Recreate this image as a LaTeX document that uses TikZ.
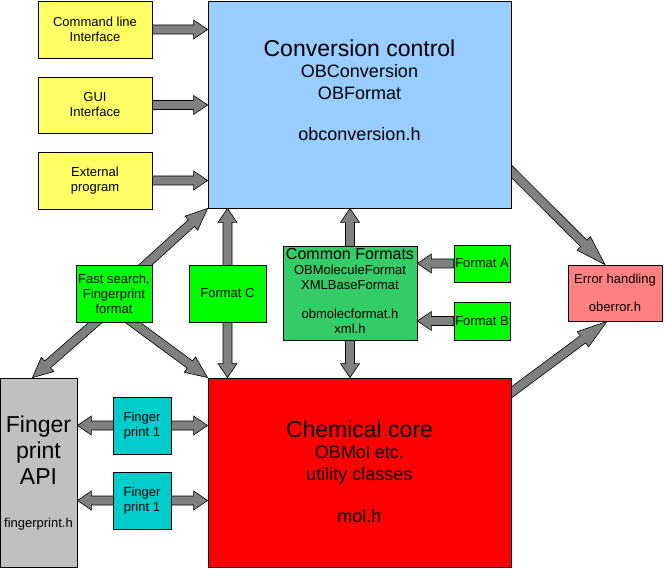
\documentclass[tikz,border=0pt]{standalone}
\usepackage{fontspec}
\setmainfont{Liberation Sans}
\usetikzlibrary{calc,backgrounds}

\definecolor{inputyellow}{HTML}{FFFF66}
\definecolor{convblue}{HTML}{99CCFF}
\definecolor{formatgreen}{HTML}{00FF00}
\definecolor{commongreen}{HTML}{33CC66}
\definecolor{corered}{HTML}{FF0000}
\definecolor{errorpink}{HTML}{FF8080}
\definecolor{apigrey}{HTML}{C0C0C0}
\definecolor{printcyan}{HTML}{00CCCC}
\definecolor{arrowgrey}{HTML}{808080}

\begin{document}
\begin{tikzpicture}[
    x=1pt,y=-1pt,
    box/.style={draw,line width=0.8pt,inner sep=0pt,align=center,
      font=\fontsize{13}{15}\selectfont},
    bigtext/.style={anchor=north,inner sep=0pt,align=center,
      font=\fontsize{18}{21.5}\selectfont},
    blockarrow/.style={draw,line width=0.6pt,fill=arrowgrey,
      to path={let \p1=(\tikztostart),\p2=(\tikztotarget),
        \n1={atan2(\y2-\y1,\x2-\x1)},\p3=($(\p2)!#1pt!(\p1)$) in
        ($(\p1)+(\n1+90:4.5pt)$) -- ($(\p3)+(\n1+90:4.5pt)$)
        -- ($(\p3)+(\n1+90:9.5pt)$) -- (\p2) -- ($(\p3)+(\n1-90:9.5pt)$)
        -- ($(\p3)+(\n1-90:4.5pt)$) -- ($(\p1)+(\n1-90:4.5pt)$) -- cycle}},
    blockarrow/.default=14,
    twoway/.style={draw,line width=0.6pt,fill=arrowgrey,
      to path={let \p1=(\tikztostart),\p2=(\tikztotarget),
        \n1={atan2(\y2-\y1,\x2-\x1)},
        \p3=($(\p2)!14pt!(\p1)$),\p4=($(\p1)!14pt!(\p2)$) in
        (\p1) -- ($(\p4)+(\n1+90:9.5pt)$) -- ($(\p4)+(\n1+90:4.5pt)$)
        -- ($(\p3)+(\n1+90:4.5pt)$) -- ($(\p3)+(\n1+90:9.5pt)$) -- (\p2)
        -- ($(\p3)+(\n1-90:9.5pt)$) -- ($(\p3)+(\n1-90:4.5pt)$)
        -- ($(\p4)+(\n1-90:4.5pt)$) -- ($(\p4)+(\n1-90:9.5pt)$) -- cycle}}
  ]

    \useasboundingbox (0,0) rectangle (664,569);

    % inputs
    \node[box,fill=inputyellow,minimum width=114pt,minimum height=57pt] (cmdline) at (95,29.5) {Command line\\Interface};
    \node[box,fill=inputyellow,minimum width=114pt,minimum height=56pt] (gui) at (95,105) {GUI\\Interface};
    \node[box,fill=inputyellow,minimum width=114pt,minimum height=57pt] (external) at (95,180.5) {External\\program};

    \node[box,fill=convblue,minimum width=303pt,minimum height=207pt] (conv) at (359.5,104.5) {};
    \node[bigtext] (convtext) at ($(conv.north)+(0,39)$) {{\fontsize{23}{27}\selectfont Conversion control}\\OBConversion\\OBFormat\\[20pt]obconversion.h};

    % formats
    \node[box,fill=formatgreen,minimum width=76pt,minimum height=57pt] (fastsearch) at (114,293.5) {Fast search,\\Fingerprint\\format};
    \node[box,fill=formatgreen,minimum width=77pt,minimum height=57pt] (formatc) at (227.5,293.5) {Format C};
    \node[box,fill=commongreen,minimum width=134pt,minimum height=94pt] (common) at (350,293) {};
    \node[bigtext,font=\fontsize{13}{14.7}\selectfont] (commontext) at ($(common.north)+(0,3)$) {{\fontsize{16}{18}\selectfont Common Formats}\\OBMoleculeFormat\\XMLBaseFormat\\[14.7pt]obmolecformat.h\\xml.h};
    \node[box,fill=formatgreen,minimum width=56pt,minimum height=37pt] (formata) at (482,263.5) {Format A};
    \node[box,fill=formatgreen,minimum width=56pt,minimum height=38pt] (formatb) at (482,321) {Format B};
    \node[box,fill=errorpink,minimum width=94pt,minimum height=56pt] (errors) at (615,293) {Error handling\\[13pt]oberror.h};

    % core and fingerprints
    \node[box,fill=apigrey,minimum width=77pt,minimum height=189pt] (fpapi) at (38.5,472.5) {};
    \node[bigtext,font=\fontsize{23}{26}\selectfont] (fpapitext) at ($(fpapi.north)+(0,38.5)$) {Finger\\print\\API\\[17pt]{\fontsize{13}{15}\selectfont fingerprint.h}};
    \node[box,fill=corered,minimum width=303pt,minimum height=189pt] (core) at (359.5,472.5) {};
    \node[bigtext] (coretext) at ($(core.north)+(0,43)$) {{\fontsize{23}{27}\selectfont Chemical core}\\OBMol etc.\\utility classes\\[21pt]mol.h};
    \node[box,fill=printcyan,minimum width=58pt,minimum height=57pt] (printa) at (142,425.5) {Finger\\print 1};
    \node[box,fill=printcyan,minimum width=58pt,minimum height=57pt] (printb) at (142,500.5) {Finger\\print 1};

    \begin{scope}[on background layer]
      \draw[blockarrow] (cmdline.east) to (cmdline.east -| conv.west);
      \draw[blockarrow] (gui.east) to (gui.east -| conv.west);
      \draw[blockarrow] (external.east) to (external.east -| conv.west);
      \draw[blockarrow=22] (fastsearch.center) to (conv.south west);
      \draw[blockarrow=20] ($(fastsearch.south)+(-7,-10)$) to ($(fpapi.north)+(-6,0)$);
      \draw[blockarrow=22] ($(fastsearch.south)+(5,-10)$) to (core.north west);
      \draw[twoway] (formatc.center |- conv.south) to (formatc.center |- core.north);
      \draw[twoway] (common.center |- conv.south) to (common.center |- core.north);
      \draw[blockarrow] (formata.west) to (formata.west -| common.east);
      \draw[blockarrow] (formatb.west) to (formatb.west -| common.east);
      \draw[blockarrow=30] ($(conv.south east)+(-11,-48)$) to ($(errors.north)+(-10,0)$);
      \draw[blockarrow=30] ($(core.north east)+(-11,23)$) to ($(errors.south)+(-8,0)$);
      \draw[twoway] (fpapi.east |- printa.center) to (core.west |- printa.center);
      \draw[twoway] (fpapi.east |- printb.center) to (core.west |- printb.center);
    \end{scope}

  \end{tikzpicture}
\end{document}
